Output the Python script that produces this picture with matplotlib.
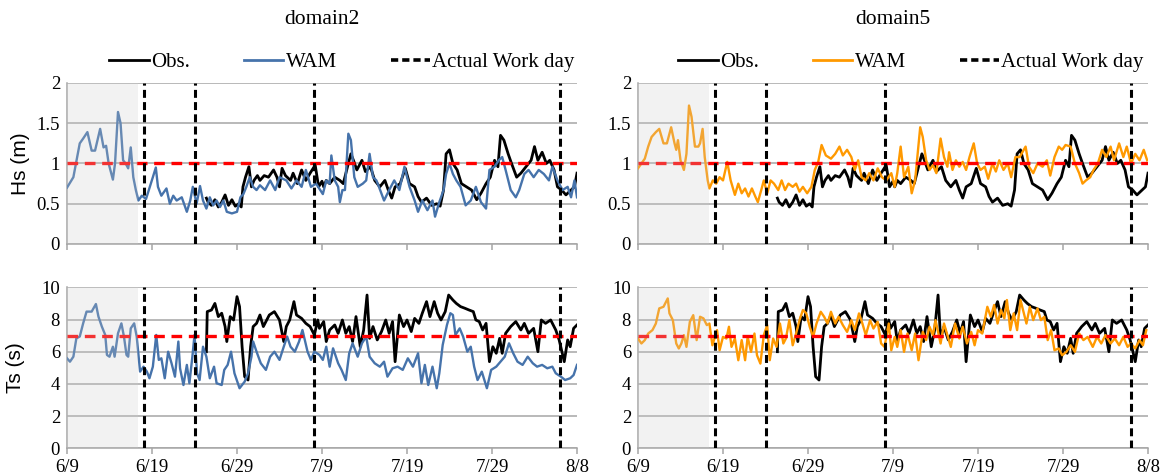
import matplotlib
matplotlib.use("Agg")
import matplotlib.pyplot as plt
from matplotlib.lines import Line2D
import numpy as np

plt.rcParams['font.family'] = ['Liberation Serif', 'DejaVu Serif']

# ---------------- data (day offset from 6/9) ----------------
tick_days = [0, 10, 20, 30, 40, 50, 60]
tick_labels = ["6/9", "6/19", "6/29", "7/9", "7/19", "7/29", "8/8"]
work_days = [9.05, 15.0, 29.0, 58.0]
spinup_end = 8.35
hs_limit = 1.0
ts_limit = 7.0

obs_hs = [(16.4,0.57),(16.6,0.52),(17.0,0.48),(17.4,0.55),(17.8,0.46),(18.2,0.52),(18.6,0.61),(19.0,0.48),
          (19.4,0.55),(19.8,0.47),(20.2,0.50),(20.5,0.46),(20.7,0.71),(21.0,0.83),(21.4,0.96),(21.7,0.71),
          (22.0,0.79),(22.4,0.85),(22.7,0.79),(23.2,0.85),(23.7,0.83),(24.3,0.92),(24.7,0.83),(25.0,0.71),
          (25.3,0.94),(25.7,0.85),(26.3,0.79),(26.6,0.88),(27.1,0.75),(27.6,0.92),(28.1,0.79),(28.6,0.88),
          (29.2,0.98),(29.6,0.71),(30.0,0.78),(30.2,0.71),(30.5,0.79),(30.9,0.75),(31.5,0.83),(32.1,0.79),
          (32.5,0.75),(33.1,1.0),(33.4,1.12),(33.7,1.04),(34.1,0.92),(34.7,1.04),(35.1,0.90),(35.7,0.96),
          (36.2,0.79),(36.8,0.71),(37.4,0.79),(37.8,0.67),(38.2,0.57),(38.6,0.71),(39.2,0.75),(39.8,0.94),
          (40.3,0.75),(40.9,0.71),(41.3,0.59),(41.7,0.52),(42.3,0.57),(42.9,0.48),(43.5,0.50),(43.9,0.47),
          (44.3,0.67),(44.6,1.12),(45.0,1.17),(45.4,1.0),(45.9,0.92),(46.4,0.75),(47.0,0.71),(47.6,0.67),
          (48.2,0.55),(48.7,0.63),(49.3,0.75),(49.8,0.83),(50.3,1.04),(50.7,0.96),(51.0,1.35),(51.4,1.29),
          (51.9,1.12),(52.3,1.0),(52.9,0.83),(53.4,0.88),(54.0,0.96),(54.6,1.04),(55.0,1.21),(55.4,1.04),
          (55.9,1.14),(56.4,1.0),(56.8,1.04),(57.3,0.92),(57.7,0.71),(58.2,0.67),(58.7,0.61),(59.3,0.67),
          (59.7,0.71),(60.0,0.88)]

obs_ts = [(16.4,6.0),(16.5,8.49),(17.0,8.59),(17.4,9.0),(17.8,8.18),(18.2,8.39),(18.6,7.56),(18.8,6.63),
          (19.2,8.18),(19.6,7.97),(20.0,9.42),(20.3,8.80),(20.6,6.31),(20.9,4.45),(21.3,4.24),(21.6,6.31),
          (21.9,7.56),(22.3,7.76),(22.7,8.28),(23.1,7.56),(23.4,7.87),(23.8,8.28),(24.4,8.49),(25.0,7.97),
          (25.5,6.63),(25.8,7.56),(26.2,7.97),(26.7,9.11),(27.0,8.28),(27.6,8.07),(28.1,7.76),(28.6,7.56),
          (29.1,7.04),(29.5,7.97),(29.7,7.45),(30.2,7.87),(30.5,6.63),(30.9,7.35),(31.5,7.66),(31.9,7.14),
          (32.4,7.97),(32.8,7.14),(33.2,7.56),(33.6,6.63),(34.0,8.18),(34.5,6.31),(34.9,7.35),(35.3,9.52),
          (35.6,6.83),(36.0,7.56),(36.5,6.73),(37.0,7.25),(37.5,7.97),(37.9,7.14),(38.3,7.87),(38.6,5.38),
          (39.1,8.28),(39.6,7.56),(40.0,7.97),(40.5,7.25),(40.9,8.07),(41.4,7.76),(41.8,8.39),(42.3,9.11),
          (42.7,8.18),(43.2,9.11),(43.6,8.39),(44.0,7.97),(44.5,8.49),(44.9,9.52),(45.4,9.21),(45.8,9.0),
          (46.3,8.80),(46.8,8.70),(47.3,8.59),(47.8,8.49),(48.1,7.97),(48.5,7.87),(48.9,7.35),(49.3,7.76),
          (49.7,5.38),(50.1,6.31),(50.5,5.90),(50.9,6.83),(51.2,5.90),(51.6,7.14),(52.2,7.56),(52.8,7.87),
          (53.4,7.35),(53.8,7.76),(54.3,7.14),(54.9,7.45),(55.4,6.0),(55.8,7.97),(56.3,7.76),(56.9,7.97),
          (57.5,7.35),(57.9,6.73),(58.5,5.38),(58.9,6.73),(59.2,6.31),(59.6,7.45),(60.0,7.66)]

wam2_hs = [(0,0.70),(0.75,0.83),(1.5,1.25),(1.9,1.31),(2.4,1.39),(2.9,1.16),(3.3,1.16),(3.9,1.43),(4.3,1.20),
           (4.6,1.22),(4.9,1.0),(5.4,0.80),(5.65,1.0),(6.0,1.64),(6.3,1.5),(6.6,1.04),(6.9,1.0),(7.2,0.94),
           (7.5,1.20),(7.8,0.83),(8.1,0.67),(8.4,0.54),(8.8,0.60),(9.3,0.56),(9.75,0.71),(10.1,0.83),
           (10.45,0.95),(10.7,0.71),(11.1,0.60),(11.7,0.69),(12.1,0.50),(12.5,0.60),(12.9,0.54),(13.5,0.58),
           (14.1,0.40),(14.5,0.54),(14.8,0.71),(15.25,0.50),(15.65,0.72),(16.0,0.54),(16.4,0.44),(16.8,0.58),
           (17.2,0.48),(17.6,0.54),(18.0,0.46),(18.4,0.54),(18.8,0.40),(19.4,0.38),(20.0,0.40),(20.4,0.58),
           (20.75,0.62),(21.1,0.71),(21.5,0.83),(21.9,0.71),(22.3,0.67),(22.7,0.73),(23.3,0.67),(23.9,0.79),
           (24.5,0.67),(25.0,0.83),(25.8,0.79),(26.4,0.69),(27.0,0.79),(27.6,0.71),(28.1,0.92),(28.7,0.71),
           (29.3,0.75),(30.1,0.62),(30.5,0.79),(30.9,0.75),(31.1,1.10),(31.5,0.79),(31.9,0.71),(32.1,0.52),
           (32.4,0.67),(32.7,0.67),(33.1,1.37),(33.4,1.29),(33.8,0.83),(34.2,0.71),(34.8,0.75),(35.2,0.79),
           (35.6,1.12),(36.0,0.83),(36.4,0.79),(36.7,0.71),(37.3,0.54),(37.9,0.67),(38.5,0.79),(39.1,0.67),
           (39.7,0.96),(40.3,0.71),(40.9,0.54),(41.3,0.40),(41.8,0.54),(42.4,0.42),(43.0,0.54),(43.3,0.34),
           (43.8,0.52),(44.3,0.67),(44.6,0.87),(45.0,1.0),(45.4,0.87),(45.8,0.79),(46.3,0.71),(46.9,0.48),
           (47.5,0.54),(48.1,0.71),(48.7,0.52),(49.3,0.44),(49.7,0.92),(50.3,0.96),(50.8,1.04),(51.2,1.08),
           (51.6,0.92),(52.2,0.67),(52.8,0.58),(53.2,0.67),(53.8,0.87),(54.3,0.92),(54.9,0.83),(55.5,0.92),
           (56.1,0.87),(56.7,0.79),(57.1,0.96),(57.7,0.79),(58.3,0.67),(58.9,0.71),(59.3,0.58),(59.7,0.79),
           (60.0,0.58)]

wam2_ts = [(0,5.59),(0.35,5.38),(0.75,5.69),(1.1,6.83),(1.5,6.94),(1.9,7.76),(2.3,8.49),(2.9,8.49),(3.4,8.96),
           (3.7,8.18),(4.1,7.56),(4.5,7.04),(4.7,5.80),(5.0,5.69),(5.4,6.31),(5.6,5.69),(6.0,7.14),(6.4,7.76),
           (6.7,6.94),(7.0,5.80),(7.2,5.69),(7.5,7.45),(7.9,7.76),(8.2,6.94),(8.6,4.76),(9.0,5.07),(9.4,4.76),
           (9.7,4.35),(10.1,5.07),(10.5,7.04),(10.8,5.49),(11.1,5.59),(11.5,4.35),(11.9,6.0),(12.3,5.28),
           (12.7,4.45),(13.1,6.63),(13.3,4.97),(13.7,3.93),(14.1,5.18),(14.4,4.04),(14.75,5.69),(15.0,7.04),
           (15.3,4.66),(15.6,4.24),(16.0,6.31),(16.4,5.69),(16.8,4.35),(17.3,5.07),(17.6,4.04),(18.2,3.93),
           (18.5,4.87),(18.9,5.18),(19.3,6.0),(19.7,4.66),(20.3,3.73),(20.9,4.14),(21.3,4.66),(21.7,5.69),
           (21.9,6.63),(22.3,6.0),(22.8,5.28),(23.4,4.87),(23.9,5.69),(24.4,6.0),(25.0,5.49),(25.5,6.31),
           (25.9,6.94),(26.3,6.31),(26.8,6.0),(27.3,6.63),(27.7,7.35),(28.3,6.0),(28.7,5.49),(29.1,6.0),
           (29.7,5.80),(30.1,5.49),(30.5,6.31),(30.9,5.07),(31.3,6.21),(31.9,5.28),(32.3,4.87),(32.8,4.24),
           (33.2,5.90),(33.6,6.52),(34.2,5.69),(34.7,6.52),(35.2,6.94),(35.6,5.69),(36.2,5.28),(36.8,5.07),
           (37.3,5.38),(37.7,4.45),(38.3,4.97),(38.9,5.07),(39.5,4.87),(40.1,5.59),(40.7,5.07),(41.3,5.90),
           (41.7,4.04),(42.1,5.18),(42.5,3.93),(43.0,5.07),(43.5,3.73),(43.8,4.66),(44.2,6.42),(44.7,7.66),
           (45.1,8.39),(45.4,8.28),(45.7,7.04),(46.2,7.45),(46.6,6.94),(47.1,6.0),(47.5,6.31),(47.9,5.07),
           (48.3,4.24),(48.8,4.76),(49.4,3.73),(49.9,4.87),(50.5,5.07),(51.0,5.38),(51.5,5.69),(52.0,6.52),
           (52.5,5.90),(53.0,5.38),(53.6,5.18),(54.2,5.69),(54.8,5.28),(55.3,5.07),(55.9,5.18),(56.5,4.97),
           (57.1,5.07),(57.5,4.66),(58.1,4.45),(58.6,4.24),(59.2,4.35),(59.6,4.55),(60.0,5.18)]

wam5_hs = [(0,0.94),(0.4,1.0),(0.8,1.06),(1.2,1.21),(1.6,1.33),(2.1,1.39),(2.5,1.43),(3.0,1.25),(3.4,1.25),
           (3.9,1.45),(4.3,1.25),(4.5,1.17),(4.7,1.29),(5.0,1.04),(5.4,0.92),(5.7,1.12),(6.0,1.72),(6.3,1.58),
           (6.7,1.21),(7.1,1.21),(7.3,1.25),(7.6,1.43),(7.85,1.08),(8.2,0.79),(8.4,0.69),(8.8,0.79),(9.2,0.75),
           (9.6,0.83),(10.0,0.79),(10.5,1.02),(10.9,0.79),(11.4,0.61),(11.8,0.75),(12.2,0.63),(12.6,0.69),
           (13.0,0.59),(13.4,0.69),(13.8,0.59),(14.1,0.52),(14.5,0.67),(14.8,0.79),(15.2,0.63),(15.6,0.79),
           (16.0,0.75),(16.5,0.67),(16.9,0.79),(17.3,0.67),(17.7,0.75),(18.2,0.71),(18.6,0.75),(19.0,0.65),
           (19.4,0.71),(19.9,0.63),(20.4,0.71),(20.8,0.92),(21.2,1.02),(21.6,1.23),(22.1,1.10),(22.7,1.06),
           (23.2,1.12),(23.7,1.21),(24.1,1.10),(24.6,1.17),(25.1,1.08),(25.5,0.92),(25.9,1.04),(26.3,0.83),
           (26.8,0.79),(27.2,0.88),(27.7,0.79),(28.2,0.94),(28.7,0.83),(29.2,0.79),(29.8,0.88),(30.2,0.71),
           (30.5,0.88),(30.9,1.21),(31.3,0.83),(31.8,0.96),(32.2,0.63),(32.6,0.79),(32.9,1.12),(33.2,1.45),
           (33.5,1.33),(33.9,1.04),(34.3,0.92),(34.7,0.98),(35.1,0.88),(35.6,1.31),(36.0,1.08),(36.4,0.96),
           (36.6,1.14),(37.0,0.92),(37.4,1.04),(37.8,0.96),(38.2,1.02),(38.6,0.92),(39.0,1.08),(39.5,1.25),
           (39.9,1.0),(40.3,0.92),(40.8,0.96),(41.2,0.81),(41.7,1.0),(42.1,0.90),(42.5,1.04),(43.0,0.92),
           (43.5,1.0),(43.9,0.83),(44.4,1.08),(44.9,1.08),(45.6,1.21),(46.0,0.96),(46.5,0.88),(47.0,1.0),
           (47.6,0.96),(48.1,1.04),(48.5,0.85),(49.0,1.08),(49.5,1.21),(49.9,1.17),(50.3,1.23),(50.9,1.21),
           (51.4,1.0),(51.9,0.88),(52.3,0.75),(52.7,0.79),(53.2,0.83),(53.6,0.92),(54.1,1.0),(54.6,1.17),
           (55.1,1.08),(55.6,1.21),(56.0,1.04),(56.6,1.25),(57.1,1.08),(57.5,1.21),(58.0,1.0),(58.5,1.12),
           (59.0,1.04),(59.5,1.17),(59.9,1.04)]

wam5_ts = [(0,6.82),(0.4,6.51),(0.8,6.72),(1.2,7.13),(1.7,7.34),(2.1,7.75),(2.5,8.69),(3.0,8.79),(3.5,9.31),
           (3.7,8.38),(4.1,7.96),(4.5,6.51),(4.8,6.20),(5.1,6.51),(5.4,7.03),(5.7,6.30),(6.1,7.86),(6.5,8.27),
           (6.9,6.72),(7.3,8.17),(7.7,8.07),(8.1,7.65),(8.4,7.75),(8.75,6.40),(9.0,6.82),(9.3,7.34),(9.6,6.09),
           (10.0,6.92),(10.4,6.82),(10.7,7.55),(11.0,6.30),(11.4,6.82),(11.8,5.47),(12.2,6.72),(12.6,5.47),
           (12.9,6.92),(13.3,5.99),(13.7,7.13),(14.0,5.78),(14.4,5.26),(14.8,7.03),(15.2,7.65),(15.5,5.47),
           (15.9,6.82),(16.3,6.30),(16.7,7.75),(17.1,6.51),(17.4,6.82),(17.8,7.96),(18.2,6.40),(18.6,7.13),
           (19.0,7.96),(19.4,8.59),(19.8,8.38),(20.2,7.55),(20.6,6.92),(21.0,7.75),(21.5,8.48),(21.9,8.17),
           (22.3,7.75),(22.7,8.48),(23.2,7.75),(23.6,8.17),(24.1,7.65),(24.6,7.23),(25.1,7.96),(25.5,7.34),
           (26.0,8.38),(26.4,7.75),(26.8,7.03),(27.3,7.96),(27.7,7.44),(28.2,7.86),(28.6,6.51),(29.0,6.30),
           (29.5,7.75),(29.8,6.09),(30.2,6.92),(30.5,6.30),(30.9,7.34),(31.3,5.99),(31.7,7.13),(32.2,6.09),
           (32.6,7.13),(33.0,5.47),(33.5,7.23),(33.9,6.72),(34.3,7.55),(34.7,7.03),(35.0,7.96),(35.6,6.51),
           (36.0,7.75),(36.4,7.03),(36.8,6.30),(37.3,7.75),(37.8,6.82),(38.2,7.55),(38.7,6.51),(39.2,7.23),
           (39.6,6.40),(40.0,7.34),(40.5,7.13),(41.1,8.79),(41.5,8.17),(41.9,8.90),(42.3,7.75),(42.7,8.59),
           (43.1,8.07),(43.4,9.21),(43.8,7.34),(44.2,8.38),(44.6,7.34),(45.0,9.21),(45.3,8.59),(45.7,7.75),
           (46.1,8.79),(46.5,7.96),(47.0,8.69),(47.4,7.96),(47.8,8.17),(48.2,6.72),(48.6,7.34),(49.0,6.09),
           (49.5,6.20),(49.9,5.78),(50.4,5.99),(50.9,6.40),(51.4,5.99),(51.9,7.13),(52.4,6.72),(52.9,6.92),
           (53.5,6.30),(54.0,6.92),(54.5,6.51),(55.0,7.03),(55.6,6.51),(56.1,6.82),(56.6,6.40),(57.1,6.92),
           (57.6,6.30),(58.0,6.51),(58.5,6.20),(59.0,6.72),(59.4,6.40),(59.8,7.34)]

# ---------------- styling ----------------
BLUE = '#4673ab'
ORANGE = '#ff9900'
GRID = '#a6a6a6'

fig = plt.figure(figsize=(11.61, 4.76), dpi=100)

ax_w = 510 / 1161
ax_h = 161 / 476
left_x = [67 / 1161, 638 / 1161]
hs_bottom = 1 - 244 / 476
ts_bottom = 1 - 448.3 / 476


def style_axis(ax, ymax, ystep):
    ax.set_xlim(0, 60)
    ax.set_ylim(0, ymax)
    ax.set_yticks(np.arange(0, ymax + 1e-9, ystep))
    ax.set_xticks(tick_days)
    ax.grid(axis='y', color=GRID, lw=1.1, zorder=0)
    for s in ['top', 'right']:
        ax.spines[s].set_visible(False)
    for s in ['left', 'bottom']:
        ax.spines[s].set_color(GRID)
        ax.spines[s].set_linewidth(1.1)
    ax.tick_params(axis='y', length=0, labelsize=13.5, pad=5)
    ax.tick_params(axis='x', length=4, color=GRID, width=1.1, direction='out', labelsize=13.5)


def draw_panel(ax, obs, wam, wam_color, limit):
    ox, oy = zip(*obs)
    wx, wy = zip(*wam)
    ax.plot(ox, oy, color='black', lw=2.0, zorder=3)
    ax.plot(wx, wy, color=wam_color, lw=1.7, zorder=4)
    ax.axhline(limit, color='red', lw=2.4, dashes=(3.2, 2.0), zorder=5)
    for d in work_days:
        ax.axvline(d, color='black', lw=2.2, dashes=(2.6, 1.4), zorder=6)
    ax.axvspan(0, spinup_end, color='#cccccc', alpha=0.25, lw=0, zorder=5.5)


columns = [("domain2", wam2_hs, wam2_ts, BLUE), ("domain5", wam5_hs, wam5_ts, ORANGE)]
for i, (name, whs, wts, col) in enumerate(columns):
    ax_hs = fig.add_axes([left_x[i], hs_bottom, ax_w, ax_h])
    ax_ts = fig.add_axes([left_x[i], ts_bottom, ax_w, ax_h])
    draw_panel(ax_hs, obs_hs, whs, col, hs_limit)
    draw_panel(ax_ts, obs_ts, wts, col, ts_limit)
    style_axis(ax_hs, 2, 0.5)
    ax_hs.set_yticklabels(["0", "0.5", "1", "1.5", "2"])
    ax_hs.set_xticklabels([])
    style_axis(ax_ts, 10, 2)
    ax_ts.set_xticklabels(tick_labels)
    if i == 0:
        ax_hs.set_ylabel("Hs (m)", family='Liberation Sans', fontsize=15, labelpad=5)
        ax_ts.set_ylabel("Ts (s)", family='Liberation Sans', fontsize=15, labelpad=12)

    cx = left_x[i] + ax_w / 2
    fig.text(cx, 1 - 20 / 476, name, ha='center', va='center', fontsize=15.5)

    handles = [Line2D([], [], color='black', lw=2.0),
               Line2D([], [], color=col, lw=2.0),
               Line2D([], [], color='black', lw=2.6, dashes=(2.0, 1.1))]
    leg_cx = [342 / 1161, 911 / 1161][i]
    ax_hs.legend(handles, ["Obs.", "WAM", "Actual Work day"], ncol=3, frameon=False,
                 loc='center', bbox_to_anchor=(leg_cx, 1 - 62 / 476),
                 bbox_transform=fig.transFigure, fontsize=15, handlelength=1.9,
                 handletextpad=0.1, columnspacing=2.6, borderaxespad=0, borderpad=0)

fig.savefig("out.png", dpi=100)
